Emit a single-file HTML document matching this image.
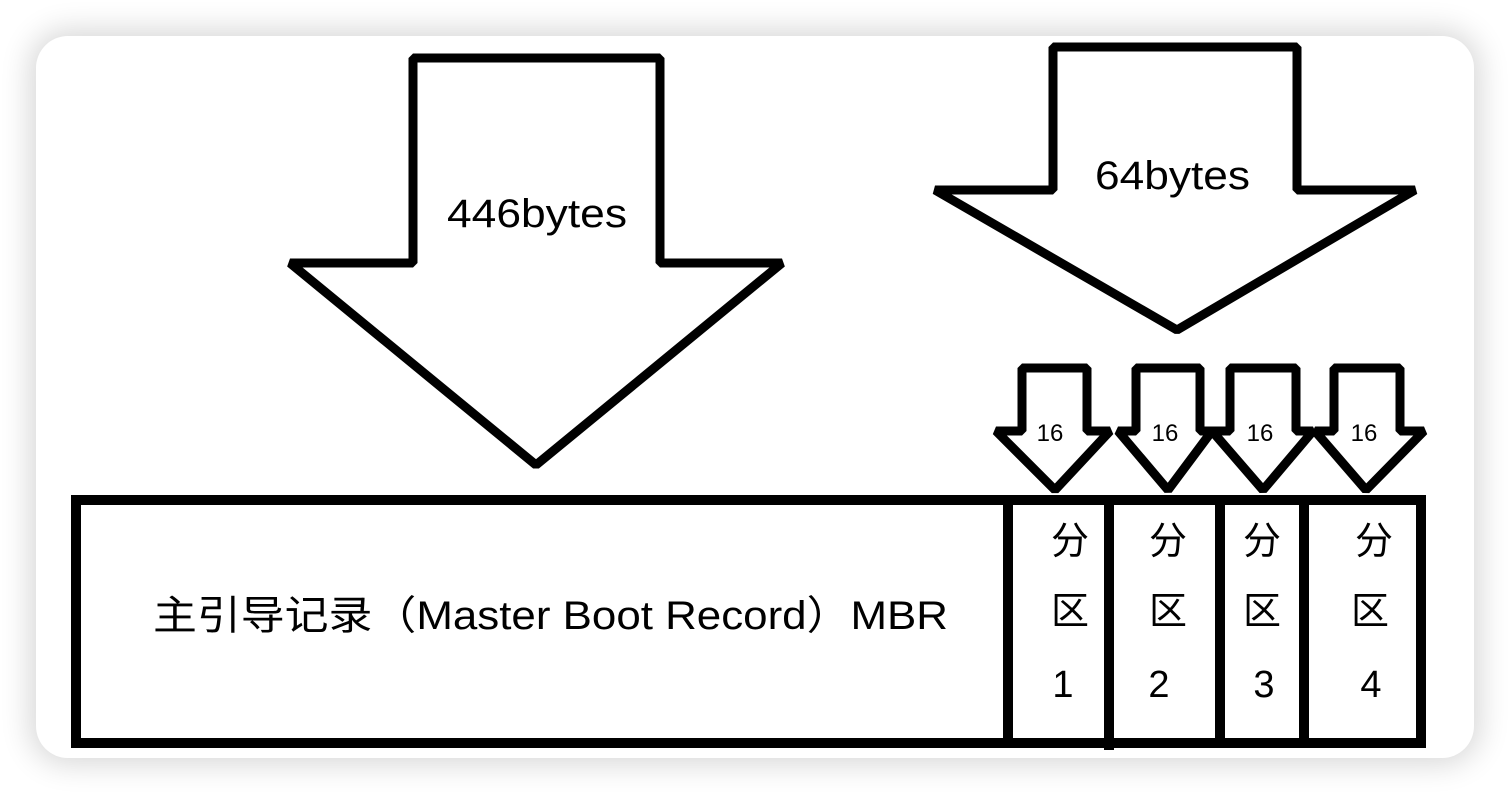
<!DOCTYPE html>
<html><head><meta charset="utf-8"><style>
html,body{margin:0;padding:0;background:#fff;}
.wrap{position:relative;width:1510px;height:794px;overflow:hidden;background:#fff;}
.card{position:absolute;left:36px;top:36px;width:1438px;height:722px;border-radius:32px;background:#fff;box-shadow:0 0 30px 6px rgba(0,0,0,0.16);}
svg{position:absolute;left:0;top:0;}
text{font-family:"Liberation Sans","Noto Sans CJK SC",sans-serif;fill:#000;}
</style></head><body><div class="wrap"><div class="card"></div>
<svg width="1510" height="794" viewBox="0 0 1510 794">
<g fill="#fff" stroke="#000" stroke-width="9" stroke-linejoin="bevel">
<polygon points="413,58 660,58 660,263 782,263 536,465 290,263 413,263"/>
<polygon points="1053,47 1297,47 1297,190 1415,190 1177,330 935,190 1053,190"/>
<polygon points="1022,368 1087,368 1087,431 1110,431 1055,490 996,431 1022,431"/>
<polygon points="1136,368 1200,368 1200,431 1212,431 1168,490 1118,431 1136,431"/>
<polygon points="1230,368 1296,368 1296,431 1313,431 1263,490 1212,431 1230,431"/>
<polygon points="1334,368 1400,368 1400,431 1424,431 1366,490 1315,431 1334,431"/>
</g>
<g fill="none" stroke="#000" stroke-width="10">
<rect x="76" y="500" width="1345" height="243"/>
<line x1="1008" y1="500" x2="1008" y2="743"/>
<line x1="1109" y1="500" x2="1109" y2="750"/>
<line x1="1220" y1="500" x2="1220" y2="743"/>
<line x1="1304" y1="500" x2="1304" y2="743"/>
</g>
<text x="447" y="227" font-size="40" textLength="180" lengthAdjust="spacingAndGlyphs">446bytes</text>
<text x="1095" y="189" font-size="40" textLength="155" lengthAdjust="spacingAndGlyphs">64bytes</text>
<g font-size="24" text-anchor="middle">
<text x="1050" y="441">16</text><text x="1165" y="441">16</text><text x="1260" y="441">16</text><text x="1364" y="441">16</text>
</g>
<text x="153" y="629" font-size="40" textLength="795" lengthAdjust="spacingAndGlyphs">主引导记录（Master Boot Record）MBR</text>
<g font-size="38" text-anchor="middle">
<text x="1070" y="554">分</text><text x="1070" y="624">区</text><text x="1063" y="697">1</text>
<text x="1168" y="554">分</text><text x="1168" y="624">区</text><text x="1159" y="697">2</text>
<text x="1262" y="554">分</text><text x="1262" y="624">区</text><text x="1264" y="697">3</text>
<text x="1374" y="554">分</text><text x="1370" y="624">区</text><text x="1371" y="697">4</text>
</g>
</svg></div></body></html>
